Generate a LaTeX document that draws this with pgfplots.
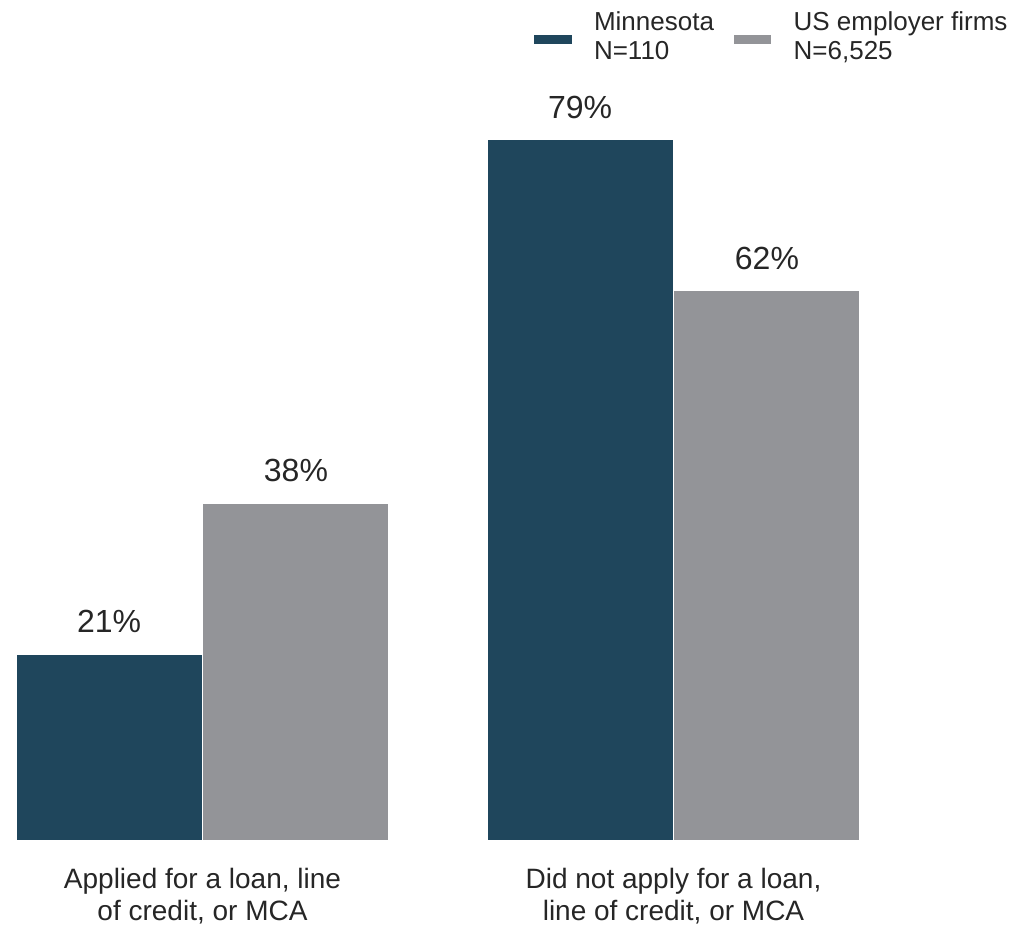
\documentclass[border=0pt]{standalone}
\usepackage{pgfplots}
\pgfplotsset{compat=1.18}
\usepackage{fontspec}
\setmainfont{Liberation Sans}
\definecolor{mnblue}{HTML}{1F465C}
\definecolor{usgray}{HTML}{939498}
\definecolor{txt}{HTML}{262626}
\begin{document}
\begin{tikzpicture}
\useasboundingbox (0,0) rectangle (758.25pt,695.25pt);
\begin{axis}[
  at={(12pt,64.5pt)}, anchor=south west,
  scale only axis, width=633pt, height=525.75pt,
  xmin=-0.396, xmax=1.396, ymin=0, ymax=79,
  clip=false,
  axis line style={draw=none},
  major tick length=0pt,
  ytick=\empty,
  xtick={0,1},
  xticklabels={{Applied for a loan, line\\of credit, or MCA}, {Did not apply for a loan,\\line of credit, or MCA}},
  xticklabel style={font=\fontsize{21}{24}\selectfont, align=center, text=txt, inner sep=0pt, yshift=-20pt},
  ybar, bar width=139.5pt,
  nodes near coords={\pgfmathprintnumber{\pgfplotspointmeta}\%},
  /pgf/number format/assume math mode=true,
  every node near coord/.append style={font=\fontsize{24}{28}\selectfont, text=txt, inner sep=0pt, anchor=south, yshift=15.75pt},
  legend style={at={(0.6126,1.187)}, anchor=north west, inner sep=0pt, outer sep=0pt, draw=none, fill=none,
    font=\fontsize{19.5}{21.5}\selectfont, text=txt,
    cells={align=left, anchor=west, inner sep=0pt},
    /tikz/every odd column/.append style={column sep=14pt},
    /tikz/every even column/.append style={column sep=12pt}},
  legend columns=2,
  legend image code/.code={\fill[#1] (0pt,-6pt) rectangle (29pt,1.5pt);},
]
\addplot[fill=mnblue, draw=white, line width=0.75pt, bar shift=-70.1pt] coordinates {(0,21) (1,79)};
\addlegendentry{Minnesota\\N=110}
\addplot[fill=usgray, draw=white, line width=0.75pt, bar shift=70.1pt] coordinates {(0,38) (1,62)};
\addlegendentry{US employer firms\\N=6,525}
\end{axis}
\end{tikzpicture}
\end{document}
